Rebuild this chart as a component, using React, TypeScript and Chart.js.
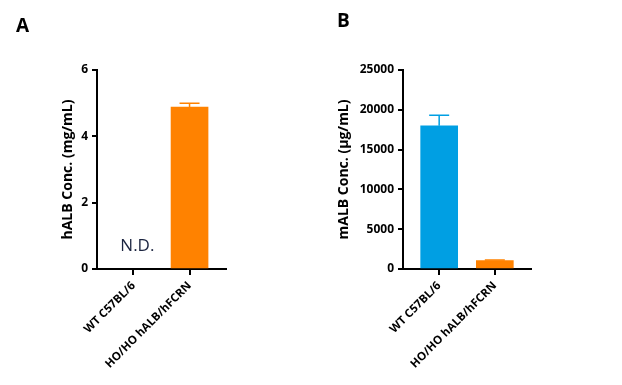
import React, { useEffect, useRef } from "react";
import { Chart, registerables } from "chart.js";

Chart.register(...registerables);

const categories = ["WT C57BL/6", "HO/HO hALB/hFCRN"];
const categoryPositions = [0, 1];

const hALBValues: (number | null)[] = [null, 4.88];
const hALBErrorTops: (number | null)[] = [null, 5.0];
const hALBColors = ["#FF8200", "#FF8200"];
const hALBTicks = [0, 2, 4, 6];

const mALBValues: (number | null)[] = [18000, 1050];
const mALBErrorTops: (number | null)[] = [19300, 1130];
const mALBColors = ["#009FE3", "#FF8200"];
const mALBTicks = [0, 5000, 10000, 15000, 20000, 25000];

const FONT = "'Open Sans', sans-serif";

type PanelProps = {
  left: number;
  values: (number | null)[];
  errors: (number | null)[];
  colors: string[];
  yTicks: number[];
  yTitle: string;
  padLeft: number;
  yWidth: number;
  padRight: number;
  note?: { text: string; x: number; y: number };
};

function Panel(props: PanelProps) {
  const ref = useRef<HTMLCanvasElement | null>(null);
  useEffect(() => {
    if (!ref.current) return;
    const errorPlugin = {
      id: "errbars",
      afterDatasetsDraw(chart: any) {
        const ctx = chart.ctx;
        const meta = chart.getDatasetMeta(0);
        const ys = chart.scales.y;
        ctx.save();
        props.values.forEach((v, i) => {
          const e = props.errors[i];
          if (v == null || e == null) return;
          const el = meta.data[i];
          const x = el.x;
          const yTop = ys.getPixelForValue(e);
          const yBar = ys.getPixelForValue(v);
          ctx.strokeStyle = props.colors[i];
          ctx.lineWidth = 1.5;
          ctx.beginPath();
          ctx.moveTo(x, yBar);
          ctx.lineTo(x, yTop);
          ctx.moveTo(x - 10, yTop);
          ctx.lineTo(x + 10, yTop);
          ctx.stroke();
        });
        if (props.note) {
          const xs = chart.scales.x;
          ctx.fillStyle = "#1b2440";
          ctx.font = "17px " + FONT;
          ctx.textAlign = "center";
          ctx.textBaseline = "middle";
          ctx.fillText(
            props.note.text,
            xs.getPixelForValue(props.note.x),
            ys.getPixelForValue(props.note.y)
          );
        }
        ctx.restore();
      },
    };
    const chart = new Chart(ref.current, {
      type: "bar",
      data: {
        datasets: [
          {
            data: categoryPositions.map((x, i) => ({ x, y: props.values[i] })) as any,
            backgroundColor: props.colors,
            barThickness: 37,
          },
        ],
      },
      options: {
        animation: false,
        responsive: false,
        events: [],
        layout: { padding: { left: props.padLeft, right: props.padRight, top: 70, bottom: 0 } },
        plugins: { legend: { display: false }, tooltip: { enabled: false } },
        scales: {
          x: {
            type: "linear",
            min: -0.65,
            max: 1.65,
            offset: false,
            afterBuildTicks: (s: any) => {
              s.ticks = categoryPositions.map((v) => ({ value: v }));
            },
            afterFit: (s: any) => {
              s.height = 116;
            },
            grid: {
              offset: false,
              drawOnChartArea: false,
              drawTicks: true,
              tickLength: 6,
              color: "#000",
              lineWidth: 2,
            },
            border: { display: true, color: "#000", width: 2 },
            ticks: {
              minRotation: 45,
              maxRotation: 45,
              autoSkip: false,
              padding: 4,
              color: "#000",
              font: { family: FONT, size: 11.5, weight: "bold" },
              callback: (v: any) => categories[Number(v)] ?? "",
            },
          },
          y: {
            min: props.yTicks[0],
            max: props.yTicks[props.yTicks.length - 1],
            afterBuildTicks: (s: any) => {
              s.ticks = props.yTicks.map((v) => ({ value: v }));
            },
            afterFit: (s: any) => {
              s.width = props.yWidth;
            },
            grid: {
              drawOnChartArea: false,
              drawTicks: true,
              tickLength: 5,
              color: "#000",
              lineWidth: 2,
            },
            border: { display: true, color: "#000", width: 2 },
            ticks: {
              padding: 4,
              color: "#000",
              font: { family: FONT, size: 12, weight: "bold" },
              callback: (v: any) => String(v),
            },
            title: {
              display: true,
              text: props.yTitle,
              color: "#000",
              font: { family: FONT, size: 14, weight: "bold" },
              padding: 0,
            },
          },
        },
      } as any,
      plugins: [errorPlugin],
    });
    return () => chart.destroy();
  }, []);
  return (
    <div style={{ position: "absolute", left: props.left, top: 0, width: 311, height: 385 }}>
      <canvas ref={ref} width={311} height={385} style={{ display: "block" }} />
    </div>
  );
}

export default function App() {
  return (
    <div style={{ position: "absolute", left: 0, top: 0, width: 622, height: 385, background: "#fff" }}>
      <Panel
        left={0}
        values={hALBValues}
        errors={hALBErrorTops}
        colors={hALBColors}
        yTicks={hALBTicks}
        yTitle="hALB Conc. (mg/mL)"
        padLeft={60}
        yWidth={37}
        padRight={85}
        note={{ text: "N.D.", x: 0.07, y: 0.7 }}
      />
      <Panel
        left={311}
        values={mALBValues}
        errors={mALBErrorTops}
        colors={mALBColors}
        yTicks={mALBTicks}
        yTitle="mALB Conc. (µg/mL)"
        padLeft={25}
        yWidth={67}
        padRight={91}
      />
      <div style={{ position: "absolute", left: 16, top: 12, font: "bold 19px " + FONT, color: "#000" }}>A</div>
      <div style={{ position: "absolute", left: 337, top: 7, font: "bold 19px " + FONT, color: "#000" }}>B</div>
    </div>
  );
}
